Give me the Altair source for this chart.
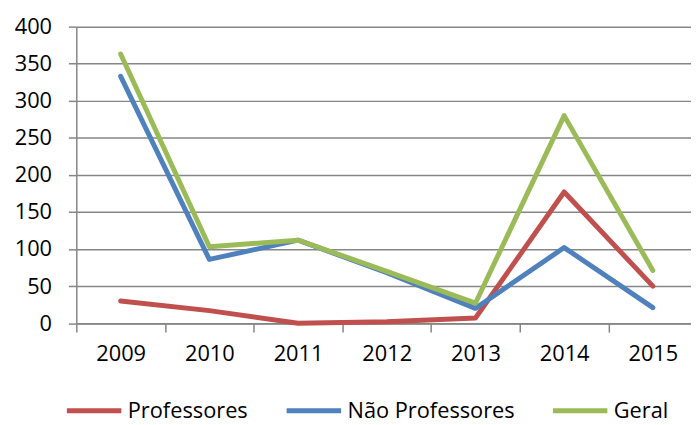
import altair as alt
import pandas as pd

years = [2009, 2010, 2011, 2012, 2013, 2014, 2015]
professores = [30, 17, 0, 2, 7, 177, 50]
nao_professores = [333, 86, 112, 68, 20, 102, 21]
geral = [363, 103, 112, 70, 27, 280, 71]
series = ["Professores", "Não Professores", "Geral"]
colors = ["#C0504D", "#4F81BD", "#9BBB59"]
y_ticks = [0, 50, 100, 150, 200, 250, 300, 350, 400]
x_bounds = [2008.5, 2009.5, 2010.5, 2011.5, 2012.5, 2013.5, 2014.5]

rows = []
for name, vals in zip(series, [professores, nao_professores, geral]):
    for yr, v in zip(years, vals):
        rows.append({"year": yr, "value": v, "series": name, "order": series.index(name)})
df = pd.DataFrame(rows)

FONT = "Open Sans"
GRID = "#868686"

xscale = alt.Scale(domain=[2008.5, 2015.43], nice=False, zero=False)
yscale = alt.Scale(domain=[0, 400], nice=False)


def yaxis():
    return alt.Axis(
        title=None,
        values=y_ticks,
        grid=True,
        gridColor=GRID,
        gridWidth=1.5,
        tickSize=8,
        tickWidth=1.5,
        tickColor=GRID,
        domainColor=GRID,
        domainWidth=1.5,
        labelPadding=17,
        labelFont=FONT,
        labelFontSize=22,
        labelColor="black",
    )


lines = (
    alt.Chart(df)
    .mark_line(strokeWidth=5, strokeCap="round", strokeJoin="round")
    .encode(
        x=alt.X(
            "year:Q",
            scale=xscale,
            axis=alt.Axis(
                title=None,
                orient="bottom",
                values=years,
                format="d",
                ticks=False,
                domain=False,
                grid=False,
                labelOverlap=False,
                labelBound=False,
                labelFlush=False,
                labelPadding=21,
                labelFont=FONT,
                labelFontSize=22,
                labelColor="black",
            ),
        ),
        y=alt.Y("value:Q", scale=yscale, axis=yaxis()),
        color=alt.Color(
            "series:N",
            scale=alt.Scale(domain=series, range=colors),
            legend=alt.Legend(
                title=None,
                orient="none",
                legendX=-12,
                legendY=358,
                direction="horizontal",
                symbolType="stroke",
                symbolSize=3025,
                symbolStrokeWidth=5,
                labelFont=FONT,
                labelFontSize=22,
                labelColor="black",
                labelOffset=4,
                labelLimit=400,
                columnPadding=28,
                padding=0,
            ),
        ),
        order=alt.Order("order:Q"),
    )
)

frame = (
    alt.Chart(df)
    .mark_line(opacity=0)
    .encode(
        x=alt.X(
            "year:Q",
            scale=xscale,
            axis=alt.Axis(
                title=None,
                orient="bottom",
                values=x_bounds,
                labels=False,
                grid=False,
                tickSize=9,
                tickWidth=1.5,
                tickColor=GRID,
                domainColor=GRID,
                domainWidth=1.5,
            ),
        ),
        y=alt.Y("value:Q", scale=yscale, axis=yaxis()),
        detail="series:N",
    )
)

chart = (
    alt.layer(frame, lines)
    .resolve_axis(x="independent")
    .properties(
        width=621,
        height=299.6,
        autosize=alt.AutoSizeParams(type="none"),
        padding={"left": 69, "top": 16.7, "right": 0, "bottom": 100},
        background="white",
    )
    .configure_view(stroke=None)
)

chart.save("out.html", embed_options={"renderer": "svg", "actions": False})
